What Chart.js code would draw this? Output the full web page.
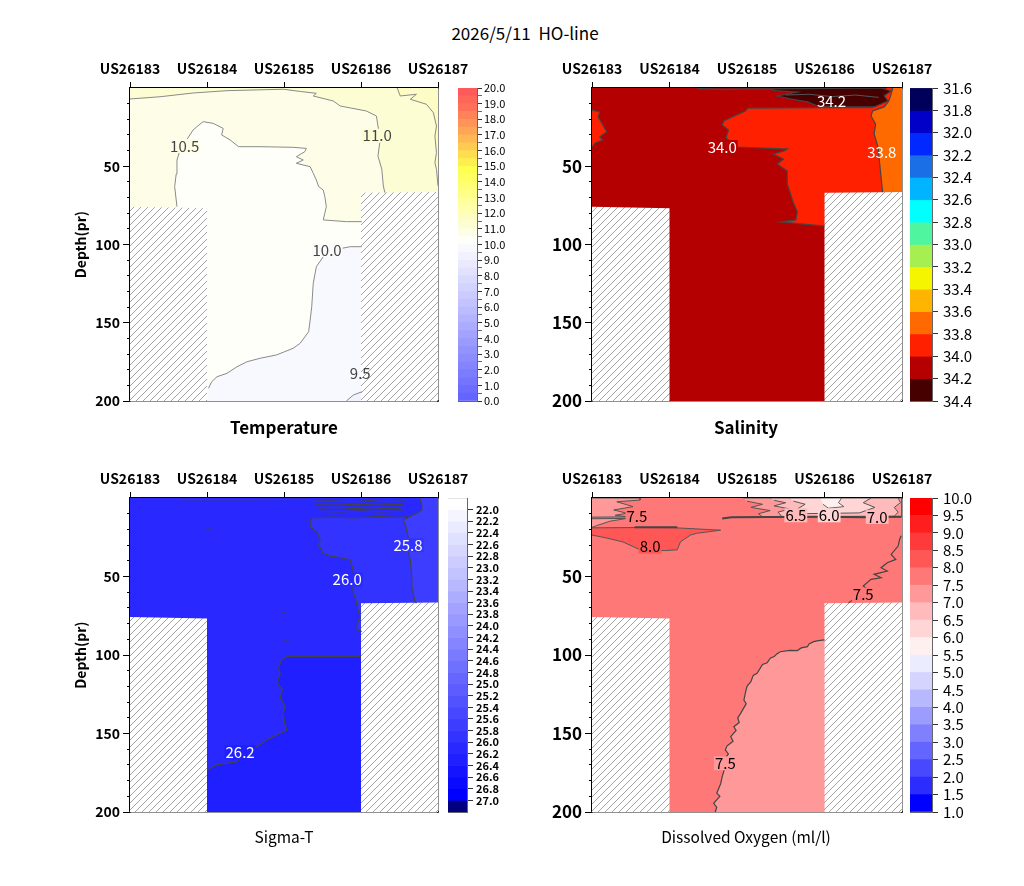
<!DOCTYPE html>
<html>
<head>
  <meta charset="utf-8">
  <title>HO-line section</title>
  <script src="https://cdn.jsdelivr.net/npm/chart.js"></script>
  <style>
    body {
        margin: 0;
        background: #ffffff;
        font-family: 'Noto Sans CJK JP', 'Liberation Sans', sans-serif;
        color: #000;
    }
    #page {
        position: relative;
        width: 1024px;
        height: 886px;
        overflow: hidden;
    }
    canvas, .txt {
        position: absolute;
    }
    .txt {
        text-align: center;
        white-space: pre;
        line-height: 20px;
    }
    /* panel names under each section */
    .name-big { font-size: 17px; font-weight: bold; }
    .name-small { font-size: 15.5px; }
  </style>
</head>
<body>
<div id="page">
  <div class="txt" style="left:325px; top:23px; width:400px; font-size:17px;">2026/5/11  HO-line</div>

  <canvas id="tempChart" width="480" height="400" style="left:0; top:40px;"></canvas>
  <canvas id="tempBar" width="70" height="330" style="left:450px; top:80px;"></canvas>
  <div class="txt name-big" style="left:184px; top:417px; width:200px;">Temperature</div>

  <canvas id="salChart" width="490" height="400" style="left:470px; top:40px;"></canvas>
  <canvas id="salBar" width="90" height="330" style="left:902px; top:80px;"></canvas>
  <div class="txt name-big" style="left:646px; top:417px; width:200px;">Salinity</div>

  <canvas id="sigChart" width="480" height="400" style="left:0; top:450px;"></canvas>
  <canvas id="sigBar" width="70" height="330" style="left:440px; top:490px;"></canvas>
  <div class="txt name-small" style="left:184px; top:826px; width:200px;">Sigma-T</div>

  <canvas id="doChart" width="490" height="400" style="left:470px; top:450px;"></canvas>
  <canvas id="doBar" width="90" height="330" style="left:902px; top:490px;"></canvas>
  <div class="txt name-small" style="left:616px; top:826px; width:260px;">Dissolved Oxygen (ml/l)</div>
</div>

<script>
  // ---- data: x = station position (0 = US26183 ... 4 = US26187), y = depth ----
  const stations = ['US26183', 'US26184', 'US26185', 'US26186', 'US26187'];

  // sea floor (no data below)
  const floorLeft = [[0, 75.8], [1, 76.8]];
  const floorRight = [[3, 67], [4, 66.5]];

  // Temperature contours
  const tempIso110 = [[0, 7], [0.39, 5.6], [0.82, 3.2], [1.26, 1.7], [1.99, 0.8], [2.21, 2.2], [2.42, 3.4], [2.38, 5.1],
                      [2.64, 8.3], [2.73, 11.5], [3.07, 14.7], [3.20, 17.9], [3.22, 24.3], [3.25, 32.6], [3.22, 43.5],
                      [3.27, 51.8], [3.29, 62.6], [3.31, 66.9]];
  const tempIso115 = [[3.47, 0], [3.51, 5.1], [3.72, 4.0], [3.64, 7.2], [3.85, 10.4], [3.94, 15.8], [3.98, 24.3],
                      [3.96, 30.7], [3.98, 41.3], [3.96, 47.7], [3.98, 52], [4.0, 62.6]];
  const tempIso105 = [[0.61, 75.8], [0.58, 63], [0.60, 55], [0.61, 46], [0.65, 39.6], [0.82, 26.8], [0.87, 24.7],
                      [0.95, 21.5], [1.08, 22.6], [1.21, 25.8], [1.19, 30], [1.30, 33.2], [1.41, 37.5], [1.69, 37.5],
                      [2.12, 37.9], [2.29, 38.6], [2.27, 40.7], [2.16, 43.9], [2.25, 46], [2.16, 48.1], [2.34, 50.3],
                      [2.38, 54.5], [2.42, 58.8], [2.45, 63], [2.51, 65.2], [2.53, 69.4], [2.55, 75.8], [2.53, 80],
                      [2.51, 84.3], [2.81, 85.4], [3.01, 85.4]];
  const tempIso100 = [[3.01, 101.4], [2.86, 101.4], [2.64, 103.5], [2.51, 107.8], [2.42, 114.2], [2.38, 124.8],
                      [2.36, 139.7], [2.34, 148.2], [2.32, 155.7], [2.21, 163.1], [2.12, 166.3], [1.90, 170.6],
                      [1.69, 172.7], [1.52, 174.9], [1.39, 178.1], [1.26, 182.3], [1.13, 184.5], [1.06, 187.7],
                      [1.02, 191.9]];
  const tempIso95 = [[2.81, 200], [2.90, 196.2], [3.01, 194.1]];
  const tempLabels = [[0.71, 37, '10.5'], [3.21, 30.5, '11.0'], [2.56, 103.5, '10.0'], [2.99, 182.5, '9.5']];

  // Salinity contours
  const salIso340 = [[3.62, 12.5], [3.0, 12.6], [2.6, 12.7], [2.01, 12.8], [1.98, 14.7], [1.70, 21.1], [1.68, 23.6],
                     [1.76, 26.8], [1.73, 32], [1.88, 37.7], [2.52, 39], [2.47, 40.3], [2.34, 42.2], [2.47, 45.4],
                     [2.39, 48.6], [2.52, 53], [2.52, 61.3], [2.60, 73.5], [2.65, 79], [2.63, 84.3], [2.43, 85.6],
                     [3.0, 88.2]];
  const salIso338 = [[3.88, 0], [3.86, 3.8], [3.83, 8.3], [3.77, 12.1], [3.62, 14.7], [3.60, 17.9], [3.66, 23],
                     [3.64, 29.4], [3.69, 37.7], [3.73, 56.9], [3.75, 66.5]];
  const salIso342 = [[2.27, 0.6], [2.39, 1.9], [2.65, 2.6], [2.39, 5.1], [2.56, 7], [2.78, 8.9], [2.91, 11.5],
                     [3.25, 12.1], [3.64, 12.1], [3.82, 8.3], [3.77, 5.1], [3.86, 1.9], [3.73, 0]];
  const salIso342b = [[2.5, 4.5], [2.8, 4.0], [3.1, 5.5], [3.4, 4.5], [3.7, 6.0]];
  const salIsoTop = [[1.36, 0.4], [1.7, 1.0], [2.0, 0.7], [2.27, 0.6]];
  const salIsoLeft = [[0, 14], [0.10, 15.3], [0.08, 18.5], [0.19, 28], [0.10, 31.3], [0.14, 33.2], [0.04, 35.1], [0, 37.7]];
  const salLabels = [[3.09, 8.3, '34.2'], [1.68, 37.7, '34.0'], [3.74, 41, '33.8']];

  // Sigma-T contours
  const sigIso262 = [[1.0, 173.5], [1.05, 172], [1.13, 170], [1.25, 169], [1.39, 168], [1.45, 165], [1.52, 162],
                     [1.6, 160], [1.69, 157], [1.75, 155], [1.86, 152], [1.95, 150], [2.04, 148], [2.01, 144],
                     [1.99, 137], [2.02, 133], [1.95, 127], [1.98, 122], [1.91, 118], [1.95, 112], [1.93, 108],
                     [1.97, 103], [2.04, 101], [2.5, 101], [3.0, 101]];
  const sigIso260 = [[2.36, 12.7], [2.34, 15], [2.34, 18.5], [2.43, 21.7], [2.47, 26.8], [2.45, 30], [2.51, 35],
                     [2.6, 37], [2.73, 38], [2.86, 39.5], [2.90, 46], [2.88, 50], [2.90, 60.5], [2.93, 64], [2.95, 69],
                     [2.99, 76], [2.95, 80], [2.95, 84], [3.01, 85]];
  const sigIso258 = [[3.76, 0], [3.77, 1.3], [3.79, 4], [3.79, 7.6], [3.73, 9.5], [3.55, 14], [3.58, 18], [3.60, 22],
                     [3.64, 31], [3.62, 35], [3.64, 39.5], [3.66, 50], [3.66, 57], [3.70, 65.6], [3.72, 67]];
  const sigIsoTop = [
    [[2.37, 2.1], [2.6, 1.8], [2.9, 2.4], [3.1, 1.6], [3.3, 2.3], [3.58, 1.9]],
    [[2.40, 4.3], [2.7, 4.6], [2.95, 3.9], [3.2, 4.6], [3.45, 4.0], [3.56, 4.4]],
    [[2.45, 6.4], [2.7, 6.0], [2.9, 6.8], [3.15, 6.2], [3.35, 6.9], [3.52, 6.3]],
    [[2.48, 8.5], [2.75, 8.9], [3.0, 8.2], [3.25, 8.8], [3.55, 8.4]],
    [[2.37, 12.7], [2.6, 12.2], [2.9, 12.6], [3.2, 11.8], [3.5, 12.4], [3.6, 12.0]],
    [[0.65, 1.0], [1.5, 1.1], [2.3, 0.9]],
    [[0.99, 19], [1.06, 19]],
    [[2.0, 90.4], [2.06, 90.4]],
    [[1.98, 73], [2.01, 73]]
  ];
  const sigLabels = [[1.43, 162, '26.2'], [2.82, 52, '26.0'], [3.61, 30, '25.8']];

  // Dissolved oxygen contours
  const doIso75Deep = [[3.0, 90.4], [2.92, 90.8], [2.86, 91.5], [2.8, 93], [2.78, 94.7], [2.7, 95.5], [2.65, 97.2],
                       [2.55, 97], [2.43, 97.9], [2.38, 99.5], [2.35, 101], [2.3, 102], [2.26, 105], [2.2, 106],
                       [2.13, 111.7], [2.08, 113], [2.05, 117], [2.0, 120], [1.98, 124], [1.96, 128.7], [1.99, 131],
                       [1.92, 137], [1.88, 140], [1.9, 143], [1.83, 145.7], [1.86, 148], [1.79, 152], [1.82, 155],
                       [1.74, 158], [1.72, 160.5], [1.76, 163], [1.70, 167], [1.72, 171], [1.68, 177.5], [1.66, 182],
                       [1.61, 188], [1.65, 190], [1.57, 194.5], [1.61, 197], [1.59, 200]];
  const doIso75Right = [[3.99, 24], [3.97, 26.3], [3.95, 30.6], [3.86, 35.9], [3.92, 39.1], [3.81, 41.2], [3.73, 44.4],
                        [3.81, 46.5], [3.64, 48.6], [3.73, 50.8], [3.60, 51.8], [3.5, 56], [3.55, 58], [3.4, 60],
                        [3.45, 62], [3.31, 66.8]];
  const doIso80 = [[0, 19], [0.62, 18.8], [1.05, 18.9], [1.66, 20.5], [1.35, 22.5], [1.27, 23.6], [1.14, 28],
                   [1.10, 33], [0.95, 33.5], [0.62, 33], [0.40, 28], [0.19, 25.5], [0, 23.6]];
  const doIso80Top = [[0.55, 18.6], [1.1, 18.6]];
  const doIso75TopLeft = [[0, 0], [0.62, 0], [0.62, 1.3], [0.32, 2.4], [0.53, 5.5], [0.28, 7.6], [0.45, 9.7],
                          [0.3, 11], [0.45, 12], [0, 12.2]];
  const doIso75Wedge = [[0, 13.2], [0.45, 13.0], [0.23, 14.8], [0.06, 17.6], [0, 18.7]];
  const doIso70Top = [[1.95, 0], [4, 0], [4, 12], [2.2, 12.1], [2.15, 10], [2.3, 8], [2.05, 6], [2.2, 4], [2.0, 2]];
  const doIso65Top = [[2.3, 0], [3.95, 0], [3.98, 3], [3.9, 6], [3.95, 9], [3.9, 11.6], [2.45, 11.8], [2.4, 9],
                      [2.55, 7], [2.35, 5], [2.5, 3], [2.35, 1.5]];
  const doIso60Top = [[2.55, 0], [3.6, 0], [3.5, 3], [3.65, 6], [3.45, 9.5], [2.7, 10], [2.65, 7], [2.75, 4], [2.6, 2]];
  const doIso55Top = [[2.95, 0], [3.22, 0], [3.18, 3], [3.25, 5.5], [3.05, 6.5], [2.98, 4]];
  const doIsoTopLine = [[1.68, 13], [1.8, 12.3], [2.3, 12.1], [3.0, 12.0], [3.5, 12.2], [3.99, 12.0]];
  const doLabels = [[0.58, 11.5, '7.5'], [0.75, 31, '8.0'], [2.63, 11, '6.5'], [3.06, 11, '6.0'],
                    [3.68, 12, '7.0'], [3.5, 61.5, '7.5'], [1.72, 169, '7.5']];

  // colour bar levels
  const tempLevels = ['0.0', '1.0', '2.0', '3.0', '4.0', '5.0', '6.0', '7.0', '8.0', '9.0', '10.0',
                      '11.0', '12.0', '13.0', '14.0', '15.0', '16.0', '17.0', '18.0', '19.0', '20.0'];
  const salLevels = ['31.6', '31.8', '32.0', '32.2', '32.4', '32.6', '32.8', '33.0', '33.2', '33.4', '33.6',
                     '33.8', '34.0', '34.2', '34.4'];
  const sigLevels = ['22.0', '22.2', '22.4', '22.6', '22.8', '23.0', '23.2', '23.4', '23.6', '23.8', '24.0',
                     '24.2', '24.4', '24.6', '24.8', '25.0', '25.2', '25.4', '25.6', '25.8', '26.0', '26.2',
                     '26.4', '26.6', '26.8', '27.0'];
  const doLevels = ['1.0', '1.5', '2.0', '2.5', '3.0', '3.5', '4.0', '4.5', '5.0', '5.5', '6.0', '6.5', '7.0',
                    '7.5', '8.0', '8.5', '9.0', '9.5', '10.0'];

  // ---- styles ----
  // bottom -> top, one per 0.5 degC
  const tempColors = ['#6464ff', '#6c6cff', '#7474ff', '#7c7cff', '#8484ff', '#8c8cff', '#9393ff', '#9b9bff',
                      '#a3a3ff', '#ababff', '#b3b3ff', '#bbbbff', '#c3c3ff', '#cbcbff', '#d3d3ff', '#dadaff',
                      '#e2e2ff', '#eaeaff', '#f2f2ff', '#f8f8ff',
                      '#fffffa', '#fefee8', '#fdfdd4', '#fcfcc4', '#ffffae', '#ffff9b', '#ffff88', '#ffff75',
                      '#ffff62', '#ffff50',
                      '#ffee50', '#ffdc50', '#ffca52', '#ffb854', '#ffa656', '#ff9458', '#ff8258', '#ff7058',
                      '#ff665a', '#ff5a5a'];
  // top -> bottom
  const salColors = ['#00005a', '#0000c8', '#0028ff', '#1a6ee6', '#00b4ff', '#00ffff', '#50f5a0', '#a5f050',
                     '#f5f500', '#ffb400', '#ff6a00', '#ff2000', '#b40000', '#460000'];
  // top -> bottom (first and last are the open-ended bins)
  const sigColors = ['#ffffff', '#f5f5ff', '#ebebff', '#e0e0ff', '#d6d6ff', '#ccccff', '#c2c2ff', '#b8b8ff',
                     '#adadff', '#a3a3ff', '#9999ff', '#8f8fff', '#8585ff', '#7a7aff', '#7070ff', '#6666ff',
                     '#5c5cff', '#5252ff', '#4747ff', '#3d3dff', '#3333ff', '#2929ff', '#1f1fff', '#1414ff',
                     '#0a0aff', '#0000ff', '#000080'];
  // bottom -> top
  const doColors = ['#0000ff', '#2c2cff', '#4848ff', '#6464ff', '#8080ff', '#9c9cff', '#b8b8ff', '#d4d4ff',
                    '#ececff', '#fff0f0', '#ffd5d5', '#ffbbbb', '#ff9999', '#ff7878', '#ff5656', '#ff3a3a',
                    '#ff1e1e', '#ff0000'];

  Chart.defaults.font.family = "'Noto Sans CJK JP', 'Liberation Sans', sans-serif";
  Chart.defaults.color = '#000';

  const NONE = 'rgba(0,0,0,0)';
  const LINE = '#555555';

  // diagonal hatching for the sea floor
  function makeHatch() {
    const c = document.createElement('canvas');
    c.width = 7;
    c.height = 7;
    const g = c.getContext('2d');
    g.fillStyle = '#ffffff';
    g.fillRect(0, 0, 7, 7);
    g.strokeStyle = '#8c8c8c';
    g.lineWidth = 0.8;
    g.beginPath();
    g.moveTo(0, 7); g.lineTo(7, 0);
    g.moveTo(-1, 1); g.lineTo(1, -1);
    g.moveTo(6, 8); g.lineTo(8, 6);
    g.stroke();
    return g.createPattern(c, 'repeat');
  }
  const hatch = makeHatch();

  const pts = a => a.map(p => ({x: p[0], y: p[1]}));
  const whole = [[0, 0], [4, 0], [4, 200], [0, 200]];
  const floorL = floorLeft.concat([[1, 200], [0, 200]]);
  const floorR = floorRight.concat([[4, 200], [3, 200]]);

  function area(poly, color, edge) {
    return {data: pts(poly), showLine: true, fill: 'shape', backgroundColor: color,
            borderColor: edge || NONE, borderWidth: 1, pointRadius: 0, tension: 0};
  }
  function iso(line, color, width) {
    return {data: pts(line), showLine: true, fill: false, borderColor: color || LINE,
            borderWidth: width || 1, pointRadius: 0, tension: 0};
  }

  // contour value labels
  const contourLabels = {
    id: 'contourLabels',
    afterDatasetsDraw(chart, args, opts) {
      const {ctx, scales: {x, y}} = chart;
      ctx.save();
      ctx.font = opts.font;
      ctx.textAlign = 'center';
      ctx.textBaseline = 'middle';
      opts.items.forEach((it, i) => {
        const px = x.getPixelForValue(it[0]);
        const py = y.getPixelForValue(it[1]);
        const bg = opts.boxes && opts.boxes[i];
        if (bg) {
          const w = ctx.measureText(it[2]).width;
          ctx.fillStyle = bg;
          ctx.fillRect(px - w / 2 - 1, py - 7, w + 2, 14);
        }
        ctx.fillStyle = opts.color;
        ctx.fillText(it[2], px, py);
      });
      ctx.restore();
    }
  };

  function section(id, o) {
    const ds = o.layers;
    // first layer painted first
    ds.forEach((d, i) => { d.order = ds.length - i; });
    return new Chart(document.getElementById(id), {
      type: 'scatter',
      data: {datasets: ds},
      options: {
        responsive: false,
        animation: false,
        events: [],
        layout: {padding: o.padding},
        plugins: {
          legend: {display: false},
          tooltip: {enabled: false},
          contourLabels: o.labels
        },
        scales: {
          x: {
            axis: 'x', type: 'linear', position: 'top', min: 0, max: 4, z: 1,
            ticks: {stepSize: 1, autoSkip: false, maxRotation: 0, padding: 5,
                    font: {size: 14, weight: 'bold'}, callback: v => stations[v]},
            grid: {drawOnChartArea: false, tickLength: 6, tickColor: '#000'},
            border: {color: '#000', width: 1.5},
            afterFit: s => { s.height = 48; s.paddingLeft = 0; s.paddingRight = 0; }
          },
          y: {
            axis: 'y', type: 'linear', position: 'left', reverse: true, min: 0, max: 200, weight: 1, z: 1,
            ticks: {stepSize: 50, autoSkip: false, padding: 3, font: {size: o.tickSize, weight: 'bold'},
                    callback: v => (v === 0 ? '' : v)},
            grid: {drawOnChartArea: false, tickLength: 7,
                   tickColor: c => (c.tick && c.tick.value === 0 ? NONE : '#000')},
            border: {color: '#000', width: 1.5},
            title: {display: o.yTitle, text: 'Depth(pr)', font: {size: 14, weight: 'bold'},
                    padding: {top: 0, bottom: 0}},
            afterFit: s => { s.width = o.yWidth; s.paddingTop = 0; s.paddingBottom = 0; }
          },
          ym: {
            axis: 'y', type: 'linear', position: 'left', reverse: true, min: 0, max: 200, weight: 0, z: 1,
            ticks: {stepSize: 10, autoSkip: false, padding: 0, callback: () => ''},
            grid: {drawOnChartArea: false, tickLength: 3,
                   tickColor: c => (c.tick && c.tick.value % 50 === 0 ? NONE : '#000')},
            border: {display: false},
            afterFit: s => { s.width = 0; s.paddingTop = 0; s.paddingBottom = 0; }
          },
          xb: {
            axis: 'x', type: 'linear', position: 'bottom', min: 0, max: 4, z: 1,
            ticks: {display: false}, grid: {display: false},
            border: {color: '#222', width: 1.5},
            afterFit: s => { s.height = 0; s.paddingLeft = 0; s.paddingRight = 0; }
          },
          yr: {
            axis: 'y', type: 'linear', position: 'right', min: 0, max: 200, z: 1,
            ticks: {display: false}, grid: {display: false},
            border: {color: '#222', width: 1.5},
            afterFit: s => { s.width = 0; s.paddingTop = 0; s.paddingBottom = 0; }
          }
        }
      },
      plugins: [contourLabels]
    });
  }

  function colorBar(id, o) {
    const n = o.colors.length;
    new Chart(document.getElementById(id), {
      type: 'bar',
      data: {
        labels: [''],
        datasets: o.colors.map((c, i) => ({data: [[i, i + 1]], backgroundColor: c, borderWidth: 0,
                                            barPercentage: 1, categoryPercentage: 1}))
      },
      options: {
        responsive: false,
        animation: false,
        events: [],
        layout: {padding: o.padding},
        plugins: {legend: {display: false}, tooltip: {enabled: false}},
        scales: {
          x: {
            stacked: true, position: 'bottom', z: 1,
            ticks: {display: false}, grid: {display: false},
            border: {color: '#666', width: 1},
            afterFit: s => { s.height = 0; s.paddingLeft = 0; s.paddingRight = 0; }
          },
          xt: {
            type: 'category', axis: 'x', position: 'top', z: 1,
            ticks: {display: false}, grid: {display: false},
            border: {color: '#666', width: 1},
            afterFit: s => { s.height = 0; s.paddingLeft = 0; s.paddingRight = 0; }
          },
          y: {
            type: 'linear', position: 'right', min: 0, max: n, reverse: o.reverse, z: 1,
            ticks: {stepSize: 1, autoSkip: false, padding: o.tickPad, color: '#000',
                    font: {size: o.fontSize, weight: o.weight}, callback: v => o.text(v)},
            grid: {drawOnChartArea: false, tickLength: o.tickLen,
                   tickColor: c => (c.tick && o.text(c.tick.value) !== '' ? '#333' : (o.minor ? '#666' : NONE))},
            border: {color: '#666', width: 1},
            afterFit: s => { s.width = o.axisWidth; s.paddingTop = 0; s.paddingBottom = 0; }
          },
          yl: {
            type: 'linear', axis: 'y', position: 'left', min: 0, max: n, z: 1,
            ticks: {display: false}, grid: {display: false},
            border: {color: '#666', width: 1},
            afterFit: s => { s.width = 0; s.paddingTop = 0; s.paddingBottom = 0; }
          }
        }
      }
    });
  }

  // ---- Temperature ----
  section('tempChart', {
    padding: {left: 72, top: 0, right: 42, bottom: 39}, yWidth: 58, yTitle: true, tickSize: 14,
    layers: [
      area(whole, tempColors[21]),
      area([[0, 0]].concat(tempIso110, [[4, 66.9], [4, 0]]), tempColors[22]),
      area(tempIso115.concat([[4, 0]]), tempColors[23]),
      area(tempIso105.concat([[3, 200], [1, 200], [1, 76.8]]), tempColors[20]),
      area(tempIso100.concat([[1, 200], [3, 200]]), tempColors[19]),
      area(tempIso95.concat([[3, 200]]), tempColors[18]),
      area(floorL, hatch),
      area(floorR, hatch),
      iso(tempIso110, '#8a8a8a'), iso(tempIso115, '#8a8a8a'), iso(tempIso105, '#8a8a8a'),
      iso(tempIso100, '#8a8a8a'), iso(tempIso95, '#8a8a8a')
    ],
    labels: {items: tempLabels, color: '#444', font: '15px "Noto Sans CJK JP", sans-serif',
             boxes: ['#fefee8', '#fdfdd4', '#fbfbfc', null]}
  });

  // ---- Salinity ----
  section('salChart', {
    padding: {left: 60, top: 0, right: 58, bottom: 39}, yWidth: 62, yTitle: false, tickSize: 17,
    layers: [
      area(whole, salColors[12]),
      area(salIsoLeft, salColors[11]),
      area(salIso340.concat([[3, 67], [4, 67], [4, 0], [3.8, 0]]), salColors[11]),
      area(salIso338.concat([[4, 67], [4, 0]]), salColors[10]),
      area(salIso342, salColors[13]),
      area(floorL, hatch),
      area(floorR, hatch),
      iso(salIso340, '#444', 1.2), iso(salIso338, '#444', 1.2), iso(salIsoLeft, '#444', 1.2),
      iso(salIso342.concat([salIso342[0]]), '#444', 1.2), iso(salIso342b, '#555', 1),
      iso(salIsoTop, '#444', 1.5)
    ],
    labels: {items: salLabels, color: '#fff', font: '15px "Noto Sans CJK JP", sans-serif',
             boxes: [null, salColors[12], null]}
  });

  // ---- Sigma-T ----
  section('sigChart', {
    padding: {left: 72, top: 0, right: 42, bottom: 38}, yWidth: 58, yTitle: true, tickSize: 14,
    layers: [
      area(whole, sigColors[21]),
      area(sigIso262.concat([[3, 200], [1, 200]]), sigColors[22]),
      area(sigIso260.concat([[3, 67], [4, 67], [4, 12.5]]), sigColors[20]),
      area(sigIso258.concat([[4, 67], [4, 0]]), sigColors[19]),
      area(floorL, hatch),
      area(floorR, hatch),
      iso(sigIso262, '#444', 1.2), iso(sigIso260, '#444', 1.2), iso(sigIso258, '#444', 1.2)
    ].concat(sigIsoTop.map(l => iso(l, '#444', 1.2))),
    labels: {items: sigLabels, color: '#fff', font: '15px "Noto Sans CJK JP", sans-serif',
             boxes: [sigColors[22], sigColors[21], sigColors[20]]}
  });

  // ---- Dissolved oxygen ----
  section('doChart', {
    padding: {left: 60, top: 0, right: 58, bottom: 38}, yWidth: 62, yTitle: false, tickSize: 17,
    layers: [
      area(whole, doColors[13]),
      area(doIso75Deep.concat([[3, 200]]), doColors[12]),
      area(doIso75TopLeft, doColors[12], '#555'),
      area(doIso75Wedge, doColors[12], '#555'),
      area(doIso80, doColors[14], '#555'),
      area(doIso70Top, doColors[12], '#555'),
      area(doIso65Top, doColors[11], '#555'),
      area(doIso60Top, doColors[10], '#555'),
      area(doIso55Top, doColors[9], '#666'),
      area(floorL, hatch),
      area(floorR, hatch),
      iso(doIso75Deep, '#444', 1.2), iso(doIso75Right, '#444', 1.2),
      iso(doIso80Top, '#444', 2), iso(doIsoTopLine, '#444', 2)
    ],
    labels: {items: doLabels, color: '#000', font: '15px "Noto Sans CJK JP", sans-serif',
             boxes: [doColors[13], doColors[14], doColors[11], doColors[10], doColors[11], doColors[13], doColors[12]]}
  });

  // ---- colour bars ----
  colorBar('tempBar', {
    colors: tempColors, reverse: false, padding: {left: 8, top: 8, right: 0, bottom: 9},
    axisWidth: 43, fontSize: 11, weight: 'normal', tickLen: 5, tickPad: 2, minor: true,
    text: v => (v % 2 === 0 ? tempLevels[v / 2] : '')
  });
  colorBar('salBar', {
    colors: salColors, reverse: true, padding: {left: 8, top: 8, right: 0, bottom: 9},
    axisWidth: 60, fontSize: 15, weight: 'normal', tickLen: 6, tickPad: 5, minor: false,
    text: v => salLevels[v] || ''
  });
  colorBar('sigBar', {
    colors: sigColors, reverse: true, padding: {left: 8, top: 8, right: 0, bottom: 8},
    axisWidth: 43, fontSize: 11, weight: 'bold', tickLen: 6, tickPad: 3, minor: false,
    text: v => sigLevels[v - 1] || ''
  });
  colorBar('doBar', {
    colors: doColors, reverse: false, padding: {left: 8, top: 8, right: 0, bottom: 8},
    axisWidth: 60, fontSize: 15, weight: 'normal', tickLen: 6, tickPad: 5, minor: false,
    text: v => doLevels[v] || ''
  });
</script>
</body>
</html>
